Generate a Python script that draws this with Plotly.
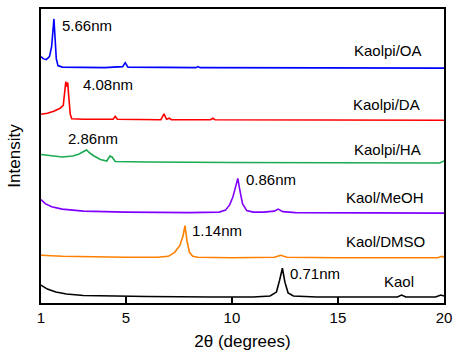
import plotly.graph_objects as go

# ---- data (2theta in degrees, intensity in stacked arbitrary units) ----
kaol_x = [1, 1.3, 1.7, 2.2, 3, 4, 6, 9, 11, 11.8, 12.1, 12.25, 12.38, 12.5, 12.65, 12.9, 14, 17.8, 18.0, 18.2, 19.6, 19.85, 20]
kaol_y = [18, 14, 11, 9, 7.5, 7, 6.5, 6, 6, 7, 11, 23, 35, 21, 10, 7, 6, 6, 8, 6, 6, 8, 7]

dmso_x = [1, 2, 5, 6.5, 7.0, 7.3, 7.55, 7.7, 7.79, 7.88, 8.0, 8.15, 8.4, 10, 12, 12.3, 12.6, 15, 19.7, 19.9, 20]
dmso_y = [48, 47, 46, 46, 47, 51, 58, 68, 78, 63, 51, 47, 46, 45.5, 46, 48, 46, 45.5, 45.5, 47, 46]

meoh_x = [1, 1.2, 1.5, 2, 3, 5, 8, 9.4, 9.7, 9.9, 10.05, 10.18, 10.28, 10.38, 10.5, 10.7, 11.0, 11.5, 12.0, 12.18, 12.4, 13, 20]
meoh_y = [104, 100, 97, 94.5, 92.5, 91.5, 91, 91.5, 93.5, 99, 107, 119, 125.5, 113, 100, 93, 91.5, 91.5, 92.5, 94.5, 92, 91, 90.5]

ha_x = [1, 1.5, 2.0, 2.5, 2.8, 3.05, 3.15, 3.3, 3.5, 3.8, 4.1, 4.25, 4.35, 4.5, 6, 10, 15, 19.8, 20]
ha_y = [149.5, 148, 147, 148, 150, 153, 154, 151, 148, 144.5, 143, 148, 147, 142.5, 142, 141.5, 141.5, 141, 143]

da_x = [1, 1.3, 1.6, 1.9, 2.05, 2.12, 2.17, 2.21, 2.26, 2.3, 2.34, 2.38, 2.45, 3, 4.4, 4.5, 4.6, 6.65, 6.8, 6.92, 7.05, 7.15, 9.0, 9.1, 9.2, 20]
da_y = [190, 191, 193, 196, 199, 211, 223, 218, 222, 210, 200, 190, 185.5, 185, 185, 188, 185, 184.5, 190.5, 185, 186, 184.5, 184.5, 186, 184.5, 184]

oa_x = [1, 1.1, 1.25, 1.4, 1.5, 1.56, 1.61, 1.66, 1.72, 1.8, 2.0, 4.0, 4.85, 4.97, 5.1, 8.3, 8.4, 8.5, 20]
oa_y = [248, 246, 245, 248, 258, 273, 286, 268, 246, 239, 237.5, 237, 238, 242, 237.5, 237, 238, 237, 236.5]

series_names = ["Kaol", "Kaol/DMSO", "Kaol/MeOH", "Kaolpi/HA", "Kaolpi/DA", "Kaolpi/OA"]
series_colors = ["#000000", "#ff8000", "#8000ff", "#1aaa50", "#ff0000", "#0000ff"]

peak_labels = ["0.71nm", "1.14nm", "0.86nm", "2.86nm", "4.08nm", "5.66nm"]
x_ticks = [1, 5, 10, 15, 20]

xs = [kaol_x, dmso_x, meoh_x, ha_x, da_x, oa_x]
ys = [kaol_y, dmso_y, meoh_y, ha_y, da_y, oa_y]

fig = go.Figure()
for x, y, name, color in zip(xs, ys, series_names, series_colors):
    fig.add_trace(go.Scatter(x=x, y=y, mode="lines", name=name,
                             line=dict(color=color, width=1.6), showlegend=False))

FAM = "Liberation Sans, Arial, sans-serif"
font = dict(family=FAM, size=15, color="#000000")

# series name labels (right aligned) and peak labels (left aligned)
name_pos = [(18.69, 22), (19.2, 62), (19.16, 106), (19.0, 155), (18.97, 200), (19.07, 254)]
peak_pos = [(12.65, 30), (8.03, 73), (10.58, 124), (2.18, 166), (2.89, 220), (1.9, 279)]
for name, (px, py) in zip(series_names, name_pos):
    fig.add_annotation(x=px, y=py, text=name, showarrow=False, xanchor="right",
                       yanchor="middle", font=font)
for lab, (px, py) in zip(peak_labels, peak_pos):
    fig.add_annotation(x=px, y=py, text=lab, showarrow=False, xanchor="left",
                       yanchor="middle", font=font)

fig.update_layout(
    width=459, height=357,
    margin=dict(l=41, r=15, t=7, b=54),
    paper_bgcolor="white", plot_bgcolor="white",
    font=font,
)
fig.update_xaxes(
    range=[1, 20], tickvals=x_ticks, ticktext=[str(t) for t in x_ticks],
    ticks="inside", ticklen=6, tickwidth=1.5, tickcolor="black",
    showline=True, linecolor="black", linewidth=1.5, mirror=True,
    showgrid=False, zeroline=False,
    tickfont=dict(family=FAM, size=15, color="black"),
    title=dict(text="2θ (degrees)", standoff=10,
               font=dict(family=FAM, size=17, color="black")),
)
fig.update_yaxes(
    range=[0, 296], showticklabels=False, ticks="",
    showline=True, linecolor="black", linewidth=1.5, mirror=True,
    showgrid=False, zeroline=False,
    title=dict(text="Intensity", standoff=14,
               font=dict(family=FAM, size=17, color="black")),
)

fig.write_html("out.html",
               config={"displayModeBar": False},
               post_script="document.body.style.margin='0';document.body.style.overflow='hidden';")
